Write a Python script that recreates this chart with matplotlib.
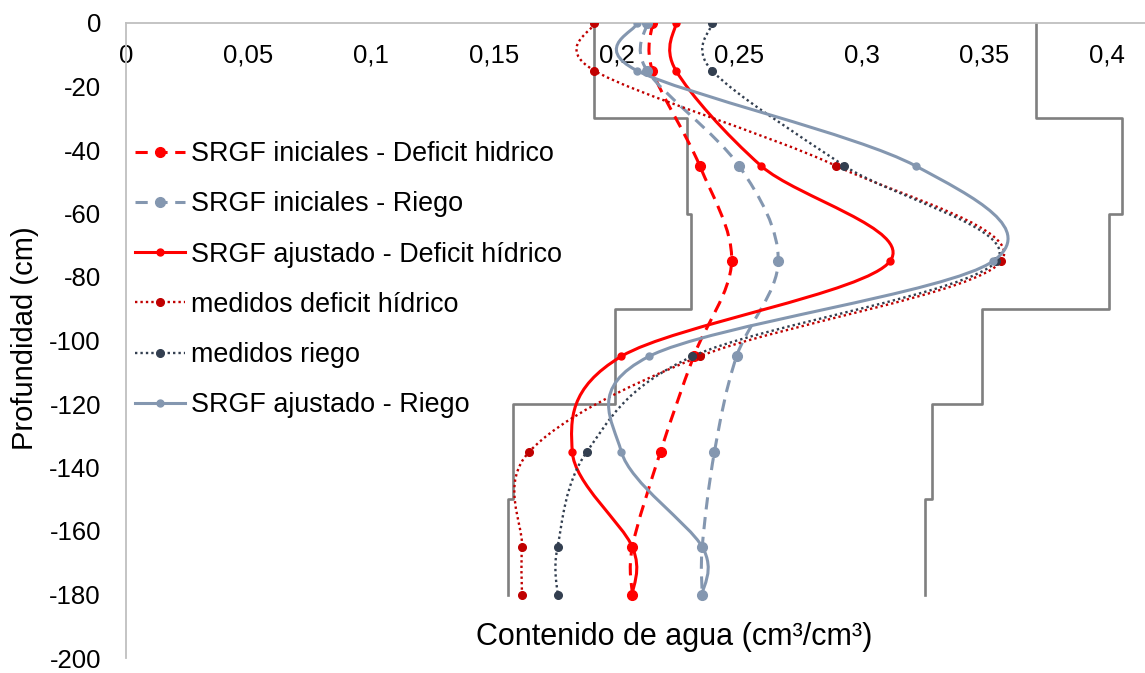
import numpy as np
import matplotlib
matplotlib.use("Agg")
import matplotlib.pyplot as plt
from matplotlib.path import Path
from matplotlib.patches import PathPatch
from matplotlib.lines import Line2D

plt.rcParams["font.family"] = ["Liberation Sans", "DejaVu Sans"]
plt.rcParams["axes.unicode_minus"] = False

# profundidades de medida (cm)
depth = [0, -15, -45, -75, -105, -135, -165, -180]

# contenido de agua (cm3/cm3)
srgf_ini_deficit = [0.2147, 0.2147, 0.234, 0.247, 0.2315, 0.218, 0.2065, 0.2065]
srgf_ini_riego = [0.2125, 0.2125, 0.250, 0.266, 0.249, 0.240, 0.235, 0.235]
srgf_aj_deficit = [0.2243, 0.2243, 0.259, 0.3116, 0.202, 0.182, 0.2065, 0.2065]
med_deficit = [0.191, 0.191, 0.2896, 0.357, 0.234, 0.1645, 0.1615, 0.1615]
med_riego = [0.239, 0.239, 0.293, 0.355, 0.231, 0.188, 0.176, 0.176]
srgf_aj_riego = [0.2084, 0.2084, 0.322, 0.3536, 0.2133, 0.202, 0.235, 0.235]

# limites por capa (escalones)
layer_bounds = [0, 30, 60, 90, 120, 150, 180]
lim_inf = [0.1909, 0.2288, 0.2304, 0.1994, 0.158, 0.1558]
lim_sup = [0.3711, 0.4062, 0.4009, 0.3491, 0.3287, 0.3259]

xticks = [0, 0.05, 0.1, 0.15, 0.2, 0.25, 0.3, 0.35, 0.4]
xtick_labels = ["0", "0,05", "0,1", "0,15", "0,2", "0,25", "0,3", "0,35", "0,4"]
yticks = list(range(0, -201, -20))


def smooth_path(xs, ys):
    """Curva suavizada tipo Excel (Catmull-Rom como Bezier cubica)."""
    pts = np.column_stack([xs, ys]).astype(float)
    ext = np.vstack([pts[0], pts, pts[-1]])
    verts = [pts[0]]
    codes = [Path.MOVETO]
    for i in range(1, len(ext) - 2):
        p0, p1, p2, p3 = ext[i - 1], ext[i], ext[i + 1], ext[i + 2]
        verts += [p1 + (p2 - p0) / 6, p2 - (p3 - p1) / 6, p2]
        codes += [Path.CURVE4] * 3
    return Path(verts, codes)


fig = plt.figure(figsize=(11.45, 6.73), dpi=100)
top_px, bot_px = 23, 658
ax = fig.add_axes([126 / 1145, 1 - bot_px / 673, 1 - 126 / 1145, (bot_px - top_px) / 673])

# escalones
for vals in (lim_inf, lim_sup):
    xs = np.repeat(vals, 2)
    ys = -np.repeat(layer_bounds, 2)[1:-1]
    ax.plot(xs, ys, color="#7F7F7F", lw=1.9, zorder=2)

series = [
    (srgf_ini_deficit, "SRGF iniciales - Deficit hidrico", "#FF0000", (0, (4, 2.5)), 2.2, 7),
    (srgf_ini_riego, "SRGF iniciales - Riego", "#8497B0", (0, (4, 2.5)), 2.2, 7),
    (srgf_aj_deficit, "SRGF ajustado - Deficit hídrico", "#FF0000", "-", 2.2, 5),
    (med_deficit, "medidos deficit hídrico", "#C00000", (0, (1, 1.3)), 1.7, 5.5),
    (med_riego, "medidos riego", "#333F50", (0, (1, 1.3)), 1.7, 5.5),
    (srgf_aj_riego, "SRGF ajustado - Riego", "#8497B0", "-", 2.2, 5),
]

handles = []
for i, (vals, label, color, ls, lw, ms) in enumerate(series):
    patch = PathPatch(smooth_path(vals, depth), fill=False, edgecolor=color,
                      lw=lw, linestyle=ls, zorder=3 + i)
    ax.add_patch(patch)
    ax.plot(vals, depth, linestyle="none", marker="o", ms=ms, color=color, zorder=3 + i)
    handles.append(Line2D([], [], color=color, lw=lw, linestyle=ls,
                          marker="o", ms=ms, label=label))

ax.set_xlim(0, (1145 - 126) / 2452)
ax.set_ylim(-200, 0)

ax.spines["bottom"].set_position(("data", 0))
ax.spines["right"].set_visible(False)
ax.spines["top"].set_visible(False)
for s in ("bottom", "left"):
    ax.spines[s].set_color("#BFBFBF")
    ax.spines[s].set_linewidth(1.3)

ax.set_xticks(xticks)
ax.set_xticklabels(xtick_labels)
ax.set_yticks(yticks)
ax.tick_params(axis="x", length=0, pad=15, labelsize=18.5)
ax.tick_params(axis="y", length=0, pad=18, labelsize=18.5)

fig.text(674 / 1145, 1 - 637 / 673, "Contenido de agua (cm³/cm³)",
         ha="center", va="center", fontsize=22)
fig.text(25 / 1145, 1 - 338 / 673, "Profundidad (cm)", rotation=90,
         ha="center", va="center", fontsize=21)

ax.legend(handles=handles, loc="upper left",
          bbox_to_anchor=(135 / 1145, 1 - 141 / 673), bbox_transform=fig.transFigure,
          frameon=False, fontsize=19.4, handlelength=1.85, handletextpad=0.22,
          labelspacing=0.9, borderpad=0, borderaxespad=0, numpoints=1)

fig.savefig("out.png", dpi=100)
